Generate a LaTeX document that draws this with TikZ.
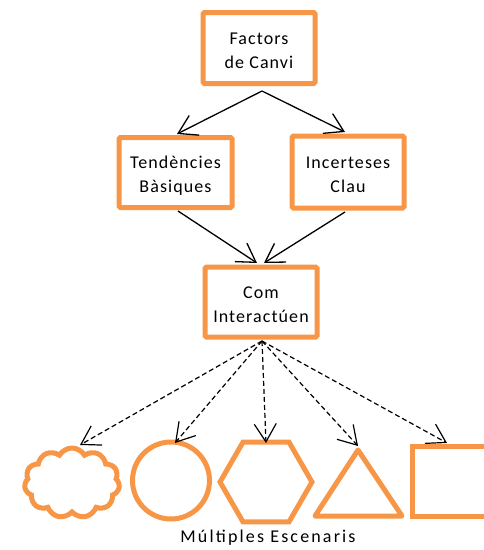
\documentclass[tikz,border=0pt]{standalone}
\usepackage{fontspec}
\setmainfont{Carlito}[LetterSpace=6]
\newfontfamily\lblfont{Carlito}[LetterSpace=12]
\usetikzlibrary{arrows.meta,shapes.geometric,shapes.symbols}
\definecolor{org}{HTML}{F79646}
\begin{document}
\begin{tikzpicture}[x=1pt,y=-1pt,
  box/.style={draw=org,line width=5pt,rounded corners=1.5pt,minimum width=112pt,minimum height=71pt,inner sep=0pt},
  boxtext/.style={align=center,font=\fontsize{18}{24}\selectfont,inner sep=0pt,yshift=-3pt},
  shp/.style={draw=org,line width=5pt,inner sep=0pt},
  arr/.style={-{Straight Barb[length=18pt,width=22pt]},line width=1.3pt},
  darr/.style={arr,dash pattern=on 5pt off 3pt,line width=1.2pt}]
\useasboundingbox (0,0) rectangle (484,550);
\node[box,label={[boxtext,name=ft]center:Factors\\de Canvi}] (f) at (259,48) {};
\node[box,minimum width=113pt,minimum height=70pt,label={[boxtext,name=tt]center:Tendències\\Bàsiques}] (t) at (175.5,172.5) {};
\node[box,minimum width=112pt,minimum height=72pt,label={[boxtext,name=it]center:Incerteses\\Clau}] (i) at (348,172) {};
\node[box,minimum width=112pt,minimum height=70pt,label={[boxtext,name=ct]center:Com\\Interactúen}] (c) at (261,302) {};
\coordinate (fb) at (262,91);
\coordinate (cb) at (262,341);
\draw[arr] (fb) -- (177,134);
\draw[arr] (fb) -- (345,132);
\draw[arr] (178,211) -- (257,263);
\draw[arr] (345,212) -- (264,263);
% shapes
\node[shp,cloud,cloud puffs=11,cloud puff arc=120,aspect=1.4,minimum width=95pt,minimum height=70pt] (s1) at (72,483) {};
\node[shp,circle,minimum size=77pt] (s2) at (171,480.5) {};
\node[shp,regular polygon,regular polygon sides=6,minimum size=92pt] (s3) at (266,482) {};
\coordinate (s4) at (358,446);
\draw[org,line width=5pt,line join=round] (358,450) -- (402,516) -- (315,516) -- cycle;
\draw[org,line width=5pt] (490,446) -- (412,446) -- (412,516) -- (490,516);
\coordinate (s5) at (447,443);
\draw[darr] (cb) -- (80,445);
\draw[darr] (cb) -- (175,443);
\draw[darr] (cb) -- (266,443);
\draw[darr] (cb) -- (s4);
\draw[darr] (cb) -- (s5);
\node[font=\lblfont\fontsize{18}{22}\selectfont] (lbl) at (268,538) {Múltiples Escenaris};
\end{tikzpicture}
\end{document}
